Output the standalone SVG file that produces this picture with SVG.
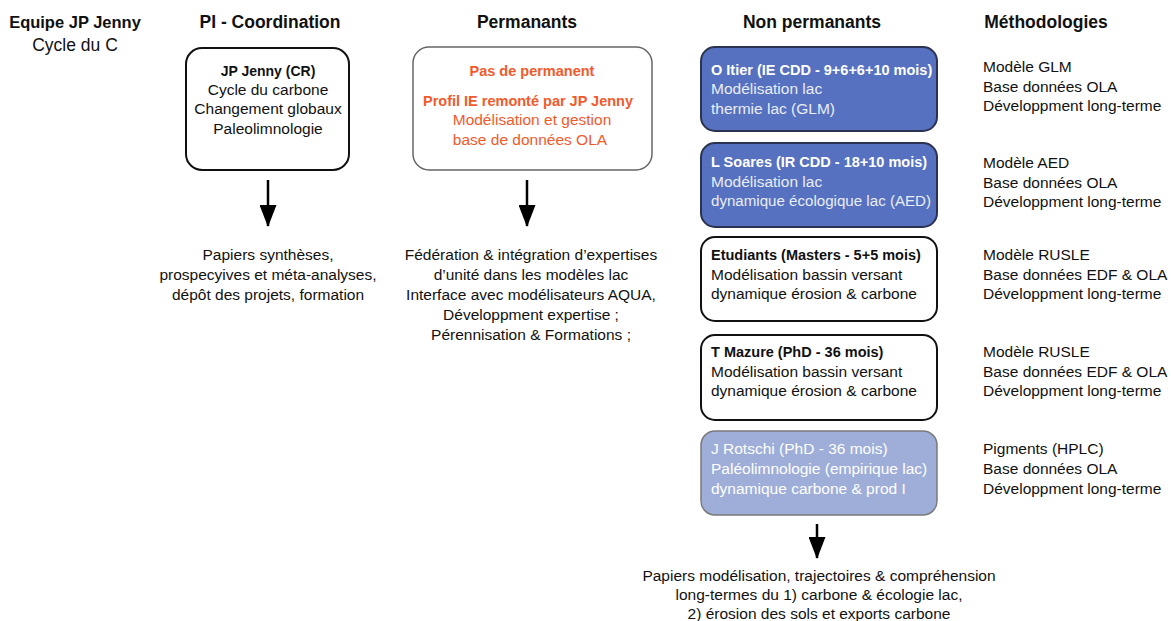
<svg xmlns="http://www.w3.org/2000/svg" width="1171" height="621" viewBox="0 0 1171 621">
  <style>
    text { font-family: "Liberation Sans", Arial, sans-serif; font-size: 15.5px; fill: #111; }
    .h { font-size: 17.5px; font-weight: bold; }
    .tb { font-size: 14.5px; font-weight: bold; }
    .c { text-anchor: middle; }
    .or { fill: #f25a2c; }
    .w { fill: #ffffff; }
    .wl { fill: #e9edf8; }
    .box { fill: #ffffff; stroke: #111; stroke-width: 2; }
    .boxg { fill: #ffffff; stroke: #666; stroke-width: 1.5; }
    .dark { fill: #5671bf; stroke: #2c3350; stroke-width: 2; }
    .light { fill: #9eaed9; stroke: #7a7a7a; stroke-width: 1.5; }
    .arr { stroke: #000; stroke-width: 2.5; fill: none; marker-end: url(#head); }
  </style>
  <defs>
    <marker id="head" viewBox="0 0 22 17" refX="21" refY="8.5" markerWidth="22" markerHeight="17" markerUnits="userSpaceOnUse" orient="auto">
      <path d="M0,0 L22,8.5 L0,17 z" fill="#000"/>
    </marker>
  </defs>
  <rect width="1171" height="621" fill="#ffffff"/>

  <!-- column headers -->
  <g id="headers">
    <text class="h c" x="75" y="28" style="font-size:16.5px">Equipe JP Jenny</text>
    <text class="c" x="75" y="51" style="font-size:17.5px">Cycle du C</text>
    <text class="h c" x="270" y="28">PI - Coordination</text>
    <text class="h c" x="527" y="28">Permanants</text>
    <text class="h c" x="812" y="28">Non permanants</text>
    <text class="h c" x="1046" y="28">Méthodologies</text>
  </g>

  <!-- PI coordination -->
  <g id="pi">
    <rect class="box" x="186" y="48" width="163" height="122" rx="16"/>
    <text class="tb c" x="268" y="76" style="font-size:14px">JP Jenny (CR)</text>
    <text class="c" x="268" y="95">Cycle du carbone</text>
    <text class="c" x="268" y="114">Changement globaux</text>
    <text class="c" x="268" y="134">Paleolimnologie</text>
  </g>

  <!-- permanent staff -->
  <g id="permanants">
    <rect class="boxg" x="413" y="47" width="239" height="123" rx="16"/>
    <text class="tb c or" x="532" y="76">Pas de permanent</text>
    <text class="tb c or" x="528" y="106">Profil IE remonté par JP Jenny</text>
    <text class="c or" x="532" y="125">Modélisation et gestion</text>
    <text class="c or" x="530" y="145">base de données OLA</text>
  </g>

  <!-- non-permanent staff -->
  <g id="itier">
    <rect class="dark" x="701" y="47" width="236" height="84" rx="14"/>
    <text class="tb w" x="711" y="75">O Itier (IE CDD - 9+6+6+10 mois)</text>
    <text class="wl" x="711" y="94">Modélisation lac</text>
    <text class="wl" x="711" y="114">thermie lac (GLM)</text>
  </g>
  <g id="soares">
    <rect class="dark" x="701" y="143" width="236" height="84" rx="14"/>
    <text class="tb w" x="711" y="167">L Soares (IR CDD - 18+10 mois)</text>
    <text class="wl" x="711" y="187">Modélisation lac</text>
    <text class="wl" x="711" y="206" textLength="220" lengthAdjust="spacingAndGlyphs">dynamique écologique lac (AED)</text>
  </g>
  <g id="etudiants">
    <rect class="box" x="701" y="237" width="236" height="84" rx="14"/>
    <text class="tb" x="711" y="260">Etudiants (Masters - 5+5 mois)</text>
    <text x="711" y="280">Modélisation bassin versant</text>
    <text x="711" y="299">dynamique érosion &amp; carbone</text>
  </g>
  <g id="mazure">
    <rect class="box" x="701" y="335" width="236" height="85" rx="14"/>
    <text class="tb" x="711" y="357">T Mazure (PhD - 36 mois)</text>
    <text x="711" y="377">Modélisation bassin versant</text>
    <text x="711" y="396">dynamique érosion &amp; carbone</text>
  </g>
  <g id="rotschi">
    <rect class="light" x="701" y="431" width="236" height="84" rx="14"/>
    <text class="w" x="711" y="454">J Rotschi (PhD - 36 mois)</text>
    <text class="w" x="711" y="474">Paléolimnologie (empirique lac)</text>
    <text class="w" x="711" y="494">dynamique carbone &amp; prod I</text>
  </g>

  <!-- methodologies -->
  <g id="methodologies">
    <text x="983" y="72">Modèle GLM</text>
    <text x="983" y="92">Base données OLA</text>
    <text x="983" y="111">Développment long-terme</text>
    <text x="983" y="168">Modèle AED</text>
    <text x="983" y="188">Base données OLA</text>
    <text x="983" y="207">Développment long-terme</text>
    <text x="983" y="260">Modèle RUSLE</text>
    <text x="983" y="280">Base données EDF &amp; OLA</text>
    <text x="983" y="299">Développment long-terme</text>
    <text x="983" y="357">Modèle RUSLE</text>
    <text x="983" y="377">Base données EDF &amp; OLA</text>
    <text x="983" y="396">Développment long-terme</text>
    <text x="983" y="454">Pigments (HPLC)</text>
    <text x="983" y="474">Base données OLA</text>
    <text x="983" y="494">Développment long-terme</text>
  </g>

  <!-- outcomes -->
  <g id="outcome-pi">
    <text class="c" x="268" y="260">Papiers synthèses,</text>
    <text class="c" x="268" y="280">prospecyives et méta-analyses,</text>
    <text class="c" x="268" y="300">dépôt des projets, formation</text>
  </g>
  <g id="outcome-permanants">
    <text class="c" x="531" y="260">Fédération &amp; intégration d’expertises</text>
    <text class="c" x="531" y="280">d’unité dans les modèles lac</text>
    <text class="c" x="531" y="300">Interface avec modélisateurs AQUA,</text>
    <text class="c" x="531" y="320">Développment expertise ;</text>
    <text class="c" x="531" y="340">Pérennisation &amp; Formations ;</text>
  </g>
  <g id="outcome-non-permanants">
    <text class="c" x="819" y="581">Papiers modélisation, trajectoires &amp; compréhension</text>
    <text class="c" x="819" y="600">long-termes du 1) carbone &amp; écologie lac,</text>
    <text class="c" x="819" y="619">2) érosion des sols et exports carbone</text>
  </g>

  <!-- connectors -->
  <g id="connectors">
    <line class="arr" x1="268" y1="180" x2="268" y2="226"/>
    <line class="arr" x1="527" y1="180" x2="527" y2="226"/>
    <line class="arr" x1="817" y1="524" x2="817" y2="558"/>
  </g>
</svg>
